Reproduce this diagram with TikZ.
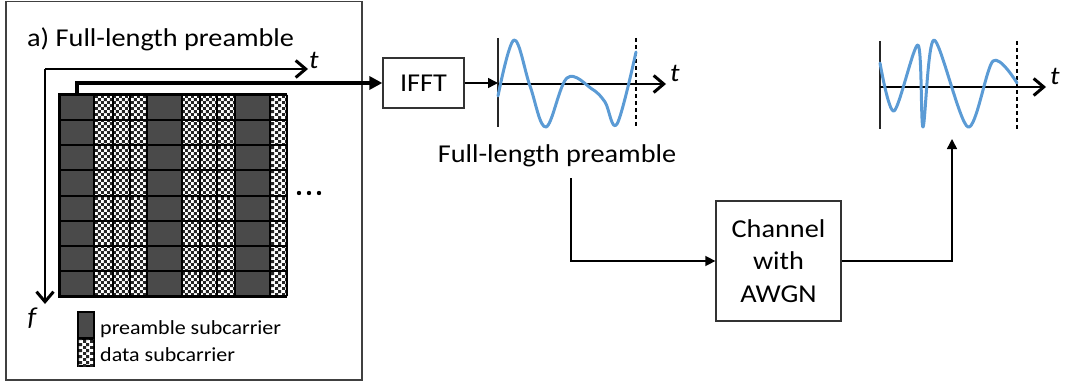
\documentclass[tikz,border=0pt]{standalone}
\usepackage{fontspec}
\setmainfont{Carlito}[FakeStretch=1.1]
\usetikzlibrary{arrows.meta,patterns.meta}
\definecolor{wave}{HTML}{5B9BD5}
\definecolor{pgray}{HTML}{4A4A4A}
\tikzdeclarepattern{
  name=mychecker,
  type=uncolored,
  bottom left={(0pt,0pt)},
  top right={(6.4pt,6.4pt)},
  tile size={(6.4pt,6.4pt)},
  code={
    \fill (0pt,0pt) rectangle (3.2pt,3.2pt);
    \fill (3.2pt,3.2pt) rectangle (6.4pt,6.4pt);
  }
}
\newcommand\mainsz{\fontsize{25.7}{32.5}\selectfont}
\newcommand\legsz{\fontsize{20}{24}\selectfont}
\tikzset{
  blk/.style={draw=black!80, line width=1.3pt, inner sep=0pt, font=\mainsz, align=center},
  axisarrow/.style={line width=1.8pt, -{Straight Barb[length=10pt,width=17pt,line width=3pt]}},
  conn/.style={line width=1.5pt, -{Triangle[length=10pt,width=10pt]}},
  thickconn/.style={line width=3.5pt, -{Triangle[length=13pt,width=13pt]}},
  waveline/.style={wave, line width=3pt, line join=round, line cap=round},
  vline/.style={line width=1.8pt, black!85},
  dline/.style={line width=1.5pt, dashed, dash pattern=on 4pt off 3pt},
  datacell/.style={fill=white, postaction={pattern=mychecker, pattern color=black!85}},
  pcell/.style={fill=pgray},
  lbl/.style={font=\mainsz, inner sep=0pt},
}
\begin{document}
\begin{tikzpicture}[x=1pt,y=-1pt]
\useasboundingbox (0,0) rectangle (1065,385);
% left frame
\draw[black!75, line width=1.5pt] (6,1.5) rectangle (362,380);
\node[lbl, anchor=base west] (title) at (27,47) {a) Full-length preamble};
% axes
\coordinate (origin) at (45,69);
\coordinate (tend) at (308,69);
\coordinate (fend) at (45,304);
\draw[axisarrow] (origin) -- (tend);
\draw[axisarrow] (origin) -- (fend);
\node[lbl, font=\mainsz\itshape, anchor=west] (tlab) at (309,60) {t};
\node[lbl, font=\mainsz\itshape] (flab) at (32,318) {f};
% grid
\foreach \a/\b in {94/147,182/235,270/287}
  \fill[datacell] (\a,95) rectangle (\b,296);
\foreach \a/\b in {59/94,147/182,235/270}
  \fill[pcell] (\a,95) rectangle (\b,296);
\foreach \x in {113,130,200,217,287}
  \draw[line width=1.3pt] (\x,95) -- (\x,296);
\foreach \x in {94,147,182,235,270}
  \draw[line width=2pt] (\x,95) -- (\x,296);
\foreach \i in {1,...,7}
  \draw[line width=2pt] (59,95+25.125*\i) -- (287,95+25.125*\i);
\draw[line width=3pt] (287,95) -- (59,95) -- (59,296) -- (287,296);
% dots
\foreach \x in {299,309,319}
  \fill (\x,193) circle (2.2pt);
% legend
\draw[pcell, draw=black, line width=1.2pt] (78,312) rectangle (94,338);
\draw[datacell, draw=black, line width=1.2pt] (78,339) rectangle (94,366);
\node[lbl, font=\legsz, anchor=base west] (leg1) at (100,334) {preamble subcarrier};
\node[lbl, font=\legsz, anchor=base west] (leg2) at (100,361) {data subcarrier};
% IFFT
\node[blk, minimum width=81pt, minimum height=50pt] (ifft) at (423.5,83) {IFFT};
\coordinate (gridtop) at (77,96);
\draw[thickconn] (gridtop) |- (ifft.west);
% waveform 1
\coordinate (w1in) at (498,83);
\draw[conn] (ifft.east) -- (w1in);
\draw[vline] (498,38) -- (498,127);
\draw[dline] (636,38) -- (636,127);
\coordinate (w1a) at (498,84);
\coordinate (w1b) at (666,84);
\draw[axisarrow] (w1a) -- (w1b);
\node[lbl, font=\mainsz\itshape, anchor=west] (t1) at (670,73) {t};
\draw[waveline] plot[smooth, tension=0.6] coordinates
  {(498,96) (514,40) (530,86) (546,127) (567,78) (592,89) (605,102) (617,124) (636,52)};
\node[lbl] (lbl1) at (557,156) {Full-length preamble};
% channel
\node[blk, minimum width=125pt, minimum height=120pt] (chan) at (778.5,261) {Channel\\with\\AWGN};
\coordinate (l1) at (571,178);
\draw[conn] (l1) |- (chan.west);
\coordinate (w2in) at (952,139);
\draw[conn] (chan.east) -| (w2in);
% waveform 2
\draw[vline] (880,41) -- (880,129);
\draw[dline] (1017,41) -- (1017,129);
\coordinate (w2a) at (880,87);
\coordinate (w2b) at (1046,87);
\draw[axisarrow] (w2a) -- (w2b);
\node[lbl, font=\mainsz\itshape, anchor=west] (t2) at (1050,76) {t};
\draw[waveline] plot[smooth, tension=0.5] coordinates
  {(880,63) (894,111) (918,45) (923,127) (934,40) (968,127) (993,61) (1017,83)};
\end{tikzpicture}
\end{document}
